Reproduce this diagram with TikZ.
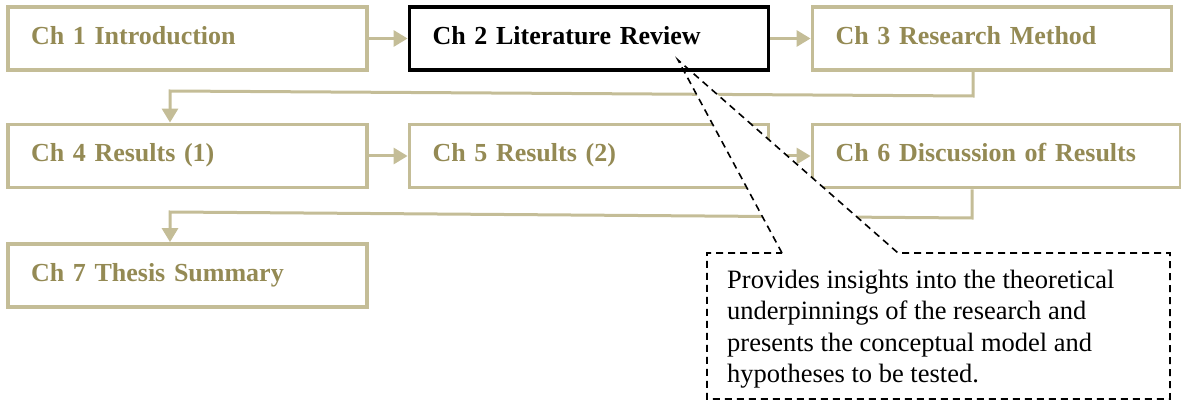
\documentclass[tikz,border=0pt]{standalone}
\usepackage{fontspec}
\setmainfont{Liberation Serif}
\usetikzlibrary{arrows.meta}
\definecolor{tanline}{RGB}{196,189,151}
\definecolor{tantext}{RGB}{148,138,84}
\begin{document}
\begin{tikzpicture}[x=1pt,y=-1pt,
  chbox/.style={draw=tanline, line width=3.8pt, text=tantext,
    font=\fontsize{26}{30}\selectfont\bfseries,
    minimum height=63pt, inner xsep=23pt, inner ysep=0pt,
    text width=313pt, align=left, text height=18pt, text depth=6pt},
  tanarrow/.style={draw=tanline, line width=3pt,
    -{Triangle[length=14pt,width=16pt]}},
  callout/.style={draw=black, fill=white, line width=1.6pt,
    dash pattern=on 7pt off 5pt},
  notetext/.style={font=\fontsize{26.5}{31.4}\selectfont, align=left,
    inner sep=0pt, text=black}]
\useasboundingbox (0,0) rectangle (1181,401);

% tan chapter boxes
\node[chbox] (ch1) at (187.5,38.5) {Ch 1 Introduction};
\node[chbox] (ch3) at (992,38.5) {Ch 3 Research Method};
\node[chbox] (ch4) at (187.5,156) {Ch 4 Results (1)};
\node[chbox] (ch5) at (589,156) {Ch 5 Results (2)};
\node[chbox, text width=322pt] (ch6) at (996.5,156) {Ch 6 Discussion of Results};
\node[chbox] (ch7) at (187.5,275.5) {Ch 7 Thesis Summary};

% tan connectors
\coordinate (k1) at (973,96);
\coordinate (k2) at (170,91);
\coordinate (k3) at (972,218);
\coordinate (k4) at (170,212);
\draw[tanarrow] (ch3.south -| k1) -- (k1) -- (k2) -- (k2 |- ch4.north);
\draw[tanarrow] (ch4.east) -- (ch5.west);
\draw[tanarrow] (ch5.east) -- (ch6.west);
\draw[tanarrow] (ch6.south -| k3) -- (k3) -- (k4) -- (k4 |- ch7.north);

% callout
\coordinate (tip) at (678,60);
\coordinate (b1) at (782,253);
\coordinate (b2) at (898,253);
\coordinate (cnw) at (707,253);
\coordinate (cne) at (1170,253);
\coordinate (cse) at (1170,399);
\coordinate (csw) at (707,399);
\draw[callout] (b1) -- (tip) -- (b2) -- (cne) -- (cse) -- (csw) -- (cnw) -- cycle;
\node[notetext, anchor=north west] (note) at (727,270)
  {Provides insights into the theoretical\\
   underpinnings of the research and\\
   presents the conceptual model and\\
   hypotheses to be tested.};

% highlighted chapter
\node[chbox, draw=black, text=black] (ch2) at (589,38.5) {Ch 2 Literature Review};
\draw[tanarrow] (ch1.east) -- (ch2.west);
\draw[tanarrow] (ch2.east) -- (ch3.west);
\end{tikzpicture}
\end{document}
